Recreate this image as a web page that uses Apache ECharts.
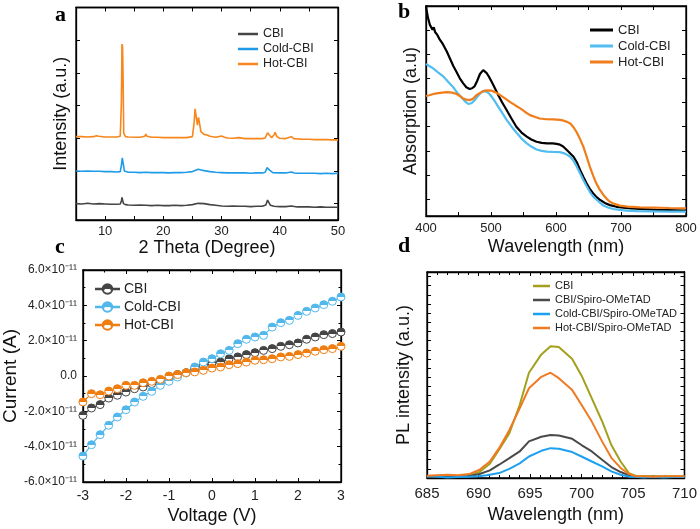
<!DOCTYPE html>
<html><head><meta charset="utf-8">
<script src="https://cdn.jsdelivr.net/npm/echarts@6/dist/echarts.min.js"></script>
<style>html,body{margin:0;padding:0;background:#fff}#c{width:700px;height:529px}</style>
</head><body><div id="c"></div>
<script>
// ---- Panel a: XRD (2θ, intensity offset) ----
const xrdCBI = [[5,0.50],[6,0.49],[7,0.51],[8,0.49],[9,0.50],[10,0.49],[11,0.48],[12,0.48],[12.6,0.49],[12.8,0.58],[12.9,0.69],[13.0,0.65],[13.15,0.50],[13.5,0.47],[14,0.46],[15,0.45],[16,0.46],[17,0.45],[18,0.44],[19,0.45],[20,0.44],[21,0.44],[22,0.45],[23,0.44],[24,0.45],[25,0.47],[26,0.51],[27,0.50],[28,0.47],[29,0.45],[30,0.43],[31,0.42],[32,0.43],[33,0.42],[34,0.42],[35,0.41],[36,0.42],[37,0.42],[37.6,0.46],[37.9,0.61],[38.1,0.58],[38.4,0.45],[39,0.42],[40,0.41],[41,0.41],[42,0.43],[43,0.40],[44,0.40],[45,0.40],[46,0.39],[47,0.40],[48,0.39],[49,0.39],[50,0.39]];
const xrdCold = [[5,1.50],[6,1.49],[7,1.50],[8,1.49],[9,1.49],[10,1.48],[11,1.48],[12,1.47],[12.6,1.48],[12.8,1.68],[12.95,1.90],[13.1,1.74],[13.3,1.50],[14,1.46],[15,1.46],[16,1.45],[17,1.46],[18,1.45],[19,1.45],[20,1.45],[21,1.44],[22,1.45],[23,1.45],[24,1.46],[25,1.48],[26,1.55],[26.5,1.53],[27,1.51],[28,1.48],[29,1.46],[30,1.45],[31,1.44],[32,1.44],[33,1.44],[34,1.44],[35,1.43],[36,1.44],[37,1.44],[37.5,1.46],[37.8,1.60],[38.0,1.65],[38.3,1.52],[38.8,1.45],[40,1.44],[41,1.44],[42,1.47],[42.5,1.44],[43,1.43],[44,1.43],[45,1.43],[46,1.43],[47,1.42],[48,1.43],[49,1.42],[50,1.43]];
const xrdHot = [[5,2.55],[6,2.55],[7,2.54],[8,2.55],[8.5,2.58],[8.7,2.63],[8.9,2.56],[10,2.54],[11,2.54],[12,2.54],[12.6,2.56],[12.8,3.60],[12.9,5.38],[13.0,5.30],[13.1,4.20],[13.2,2.65],[13.5,2.55],[14,2.54],[15,2.53],[16,2.53],[16.8,2.56],[17.0,2.63],[17.2,2.56],[18,2.53],[19,2.53],[20,2.52],[21,2.52],[22,2.52],[23,2.52],[24,2.52],[25,2.55],[25.3,3.00],[25.45,3.40],[25.7,3.10],[25.85,2.90],[26.05,3.14],[26.25,3.10],[26.45,2.70],[27,2.62],[27.5,2.60],[28,2.56],[29,2.53],[30,2.57],[30.5,2.53],[31,2.51],[32,2.50],[33,2.52],[34,2.49],[35,2.49],[36,2.49],[37,2.49],[37.5,2.51],[37.9,2.67],[38.2,2.60],[38.6,2.52],[39.0,2.60],[39.2,2.68],[39.5,2.55],[40,2.50],[41,2.49],[42,2.55],[42.4,2.49],[43,2.48],[44,2.47],[45,2.47],[46,2.46],[47,2.46],[48,2.46],[49,2.45],[50,2.45]];
const aYTicks = [0.5,1.5,2.5,3.5,4.5,5.5,6.5];

// ---- Panel b: absorption (nm, a.u.) ----
const absCBI = [[400,0.87],[401,0.85],[403,0.82],[405,0.80],[406,0.79],[408,0.79],[410,0.77],[412,0.78],[414,0.76],[417,0.75],[421,0.73],[426,0.71],[432,0.68],[437,0.65],[442,0.62],[447,0.595],[452,0.569],[457,0.549],[462,0.532],[467,0.525],[471,0.528],[475,0.537],[479,0.56],[483,0.587],[488,0.603],[493,0.592],[497,0.575],[501,0.555],[506,0.528],[511,0.50],[517,0.47],[524,0.438],[531,0.405],[539,0.369],[547,0.345],[555,0.328],[562,0.316],[570,0.307],[578,0.302],[586,0.300],[595,0.300],[601,0.298],[606,0.295],[611,0.287],[617,0.272],[622,0.258],[627,0.245],[632,0.222],[637,0.19],[642,0.162],[647,0.135],[652,0.112],[657,0.094],[662,0.079],[668,0.066],[675,0.054],[683,0.045],[693,0.038],[704,0.034],[715,0.031],[729,0.029],[742,0.027],[755,0.025],[770,0.024],[785,0.023],[800,0.022]];
const absCold = [[400,0.628],[405,0.62],[411,0.61],[418,0.595],[427,0.576],[434,0.555],[442,0.532],[448,0.51],[455,0.489],[460,0.474],[465,0.463],[470,0.466],[475,0.479],[480,0.497],[486,0.514],[490,0.516],[494,0.513],[498,0.503],[501,0.493],[506,0.474],[511,0.452],[518,0.423],[524,0.397],[532,0.368],[540,0.342],[547,0.32],[555,0.30],[562,0.287],[570,0.275],[578,0.269],[586,0.266],[595,0.265],[606,0.264],[614,0.258],[622,0.245],[627,0.228],[632,0.204],[637,0.177],[642,0.149],[647,0.124],[652,0.100],[657,0.081],[663,0.066],[668,0.054],[673,0.043],[680,0.035],[688,0.029],[698,0.025],[709,0.022],[725,0.020],[750,0.019],[775,0.018],[800,0.018]];
const absHot = [[400,0.496],[405,0.499],[410,0.503],[416,0.507],[422,0.509],[428,0.511],[432,0.512],[437,0.511],[442,0.509],[447,0.504],[452,0.496],[457,0.486],[462,0.481],[467,0.479],[472,0.484],[478,0.50],[484,0.51],[490,0.518],[496,0.519],[501,0.518],[507,0.511],[514,0.50],[521,0.487],[529,0.472],[537,0.458],[545,0.445],[552,0.431],[560,0.417],[568,0.409],[575,0.403],[585,0.400],[596,0.399],[606,0.397],[612,0.394],[617,0.389],[622,0.382],[627,0.367],[632,0.345],[637,0.318],[642,0.287],[647,0.247],[652,0.204],[657,0.168],[662,0.135],[667,0.11],[673,0.087],[678,0.071],[683,0.059],[690,0.05],[698,0.043],[710,0.039],[729,0.036],[750,0.035],[775,0.033],[800,0.032]];
const bYTicks = [0.069,0.169,0.269,0.369,0.469,0.569,0.669,0.769];

// ---- Panel c: I-V (V, A) ----
const voltage = [-3,-2.8,-2.6,-2.4,-2.2,-2,-1.8,-1.6,-1.4,-1.2,-1,-0.8,-0.6,-0.4,-0.2,0,0.2,0.4,0.6,0.8,1,1.2,1.4,1.6,1.8,2,2.2,2.4,2.6,2.8,3];
const curCBI = [-2.23,-1.81,-1.62,-1.25,-1.09,-0.91,-0.72,-0.62,-0.43,-0.30,-0.15,0.08,0.19,0.42,0.60,0.74,0.79,0.98,1.08,1.21,1.32,1.45,1.55,1.68,1.77,1.87,2.08,2.21,2.34,2.40,2.49];
const curCold = [-4.53,-3.89,-3.32,-2.79,-2.32,-1.91,-1.47,-1.15,-0.87,-0.53,-0.30,-0.06,0.17,0.51,0.79,0.98,1.26,1.45,1.83,2.08,2.21,2.30,2.77,3.02,3.15,3.43,3.66,3.85,4.04,4.23,4.47];
const curHot = [-1.47,-1.00,-1.06,-0.85,-0.72,-0.53,-0.53,-0.38,-0.30,-0.19,0.00,0.08,0.19,0.23,0.32,0.45,0.51,0.64,0.70,0.79,0.89,0.92,0.98,1.08,1.11,1.21,1.30,1.40,1.49,1.55,1.68];
const curUnit = 1e-11;

// ---- Panel d: PL (nm, a.u.) ----
const plCBI = [[685,0.2],[686,0.25],[687,0.2],[688,0.22],[689,0.3],[690.1,0.65],[691.1,1.56],[692,3.08],[693,4.9],[694,7.97],[694.9,11.5],[696.1,13.5],[697,14.4],[697.8,14.3],[699.1,13.0],[700,11.2],[701,8.7],[702,6.2],[702.9,3.6],[703.8,1.8],[704.6,0.54],[705.4,0.18],[706,0.22],[707,0.2],[708,0.18],[709,0.2],[710,0.2]];
const plHot = [[685,0.25],[686,0.3],[687,0.35],[688,0.3],[689.1,0.43],[690.1,0.9],[691.1,1.8],[692,3.26],[693,5.25],[694,7.6],[694.9,9.8],[696.1,11.05],[697,11.5],[697.8,10.9],[699.1,9.6],[700,8.0],[701,6.16],[702,4.0],[702.9,2.2],[703.8,1.1],[704.6,0.43],[705.3,0.18],[706,0.2],[707,0.15],[708,0.2],[709,0.18],[710,0.2]];
const plSpiro = [[685,0.15],[686,0.2],[687,0.1],[688,0.15],[689,0.2],[690.1,0.43],[691.1,0.83],[692,1.45],[693,2.17],[694,2.9],[694.9,4.0],[696.1,4.5],[697,4.7],[697.8,4.64],[699.1,4.28],[700,3.6],[701,2.9],[702,2.0],[702.9,1.2],[703.8,0.65],[704.6,0.3],[705.5,0.12],[706,0.1],[707,0.15],[708,0.1],[709,0.12],[710,0.1]];
const plCold = [[685,0.2],[686,0.15],[687,0.05],[688,0.1],[689,0.15],[690,0.2],[690.8,0.3],[692,0.54],[693,1.0],[694,1.6],[694.9,2.35],[696.1,2.97],[697,3.26],[697.8,3.2],[699.1,2.83],[700,2.35],[701,1.8],[702,1.27],[702.9,0.72],[703.8,0.36],[704.6,0.15],[705.5,0.1],[706,0.05],[707,0.1],[708,0.05],[709,0.1],[710,0.1]];

const FONT = 'Liberation Sans, Arial, sans-serif';
const C = {
  aCBI:'#454545', aCold:'#1e9be8', aHot:'#f7861c',
  bCBI:'#000000', bCold:'#52bdf0', bHot:'#f07d1a',
  cCBI:'#454545', cCold:'#52b8ec', cHot:'#f07d10',
  dCBI:'#a3a01e', dSpiro:'#4a4a4a', dCold:'#1ea0f0', dHot:'#f07a22'
};
const grids = [
  {left:76, top:7.5, width:262, height:212.5},
  {left:426, top:6, width:260, height:210},
  {left:79, top:270, width:262, height:212},
  {left:427, top:272, width:259, height:206}
];
const lbl = {color:'#222', fontFamily:FONT};
function xAx(g, pos, o){
  return Object.assign({type:'value', gridIndex:g, position:pos,
    axisLine:{show:true,onZero:false,lineStyle:{color:'#000',width:1.3}},
    axisTick:{show:true,inside:true,length:4,lineStyle:{color:'#000'}},
    splitLine:{show:false}}, o);
}
const xAxes = [
  xAx(0,'bottom',{min:5,max:50,interval:5,name:'2 Theta (Degree)',nameLocation:'middle',nameGap:17,
    nameTextStyle:{fontSize:18,fontFamily:FONT,color:'#111'},
    axisLabel:Object.assign({fontSize:13,margin:5,formatter:v=>v%10===0?String(v):''},lbl)}),
  xAx(0,'top',{min:5,max:50,interval:5,axisLabel:{show:false}}),
  xAx(1,'bottom',{min:400,max:800,interval:50,name:'Wavelength (nm)',nameLocation:'middle',nameGap:22,
    nameTextStyle:{fontSize:18,fontFamily:FONT,color:'#111'},
    axisLabel:Object.assign({fontSize:13,margin:6,formatter:v=>v%100===0?String(v):''},lbl)}),
  xAx(1,'top',{min:400,max:800,interval:50,axisLabel:{show:false}}),
  xAx(2,'bottom',{min:-3,max:3,interval:1,name:'Voltage (V)',nameLocation:'middle',nameGap:25,
    minorTick:{show:true,splitNumber:2,length:2.5,lineStyle:{color:'#000'}},
    nameTextStyle:{fontSize:18,fontFamily:FONT,color:'#111'},
    axisLabel:Object.assign({fontSize:14,margin:7},lbl)}),
  xAx(2,'top',{min:-3,max:3,interval:1,minorTick:{show:true,splitNumber:2,length:2.5,lineStyle:{color:'#000'}},axisLabel:{show:false}}),
  xAx(3,'bottom',{min:685,max:710,interval:5,name:'Wavelength (nm)',nameLocation:'middle',nameGap:28,
    minorTick:{show:true,splitNumber:5,length:3,lineStyle:{color:'#000'}},
    nameTextStyle:{fontSize:18,fontFamily:FONT,color:'#111'},
    axisLabel:Object.assign({fontSize:15,margin:8},lbl)}),
  xAx(3,'top',{min:685,max:710,interval:5,minorTick:{show:true,splitNumber:5,length:3,lineStyle:{color:'#000'}},axisLabel:{show:false}})
];
function yAx(g, pos, o){
  return Object.assign({type:'value', gridIndex:g, position:pos,
    axisLine:{show:true,onZero:false,lineStyle:{color:'#000',width:1.3}},
    splitLine:{show:false}}, o);
}
const tickIn = (vals)=>({show:true,inside:true,length:4,lineStyle:{color:'#000'},customValues:vals});
const yAxes = [
  yAx(0,'left',{min:0,max:6.5,axisTick:tickIn(aYTicks),axisLabel:{show:false},
    name:'Intensity (a.u.)',nameLocation:'middle',nameGap:6,nameTextStyle:{fontSize:18,fontFamily:FONT,color:'#111'}}),
  yAx(0,'right',{min:0,max:6.5,axisTick:tickIn(aYTicks),axisLabel:{show:false}}),
  yAx(1,'left',{min:0,max:0.868,axisTick:tickIn(bYTicks),axisLabel:{show:false},
    name:'Absorption (a.u)',nameLocation:'middle',nameGap:6,nameTextStyle:{fontSize:18,fontFamily:FONT,color:'#111'}}),
  yAx(1,'right',{min:0,max:0.868,axisTick:tickIn(bYTicks),axisLabel:{show:false}}),
  yAx(2,'left',{min:-6e-11,max:6e-11,interval:2e-11,
    axisTick:{show:true,inside:true,length:4,lineStyle:{color:'#000'}},
    minorTick:{show:true,splitNumber:2,length:2.5,lineStyle:{color:'#000'}},
    axisLabel:Object.assign({fontSize:12,margin:6,formatter:v=>{const m=Math.round(v/curUnit*10)/10; return m===0?'0.0':m.toFixed(1)+'×10⁻¹¹';}},lbl),
    name:'Current (A)',nameLocation:'middle',nameGap:56,nameTextStyle:{fontSize:19,fontFamily:FONT,color:'#111'}}),
  yAx(2,'right',{min:-6e-11,max:6e-11,interval:2e-11,
    axisTick:{show:true,inside:true,length:4,lineStyle:{color:'#000'}},
    minorTick:{show:true,splitNumber:2,length:2.5,lineStyle:{color:'#000'}},axisLabel:{show:false}}),
  yAx(3,'left',{min:0,max:22.5,interval:1,axisTick:{show:true,inside:true,length:4,lineStyle:{color:'#000'}},axisLabel:{show:false},
    name:'PL intensity (a.u.)',nameLocation:'middle',nameGap:14,nameTextStyle:{fontSize:18,fontFamily:FONT,color:'#111'}}),
  yAx(3,'right',{min:0,max:22.5,interval:1,axisTick:{show:true,inside:true,length:4,lineStyle:{color:'#000'}},axisLabel:{show:false}})
];
function lineS(name, data, color, xi, w){
  return {name, type:'line', xAxisIndex:xi, yAxisIndex:xi, data, symbol:'none', smooth:false,
    lineStyle:{color, width:w}, itemStyle:{color}, silent:true, animation:false};
}
function halfFill(c){
  return {type:'linear',x:0,y:0,x2:0,y2:1,colorStops:[{offset:0,color:c},{offset:0.5,color:c},{offset:0.5,color:'#fff'},{offset:1,color:'#fff'}]};
}
function ivS(name, vals, color){
  return {name, type:'line', xAxisIndex:4, yAxisIndex:4, data: voltage.map((v,i)=>[v, vals[i]*curUnit]),
    symbol:'circle', symbolSize:8, showSymbol:true,
    lineStyle:{color, width:1.2}, itemStyle:{color:halfFill(color), borderColor:color, borderWidth:1}, animation:false, silent:true};
}
const series = [
  lineS('a:CBI', xrdCBI, C.aCBI, 0, 1.6),
  lineS('a:Cold-CBI', xrdCold, C.aCold, 0, 1.6),
  lineS('a:Hot-CBI', xrdHot, C.aHot, 0, 1.6),
  lineS('b:CBI', absCBI, C.bCBI, 2, 2.2),
  lineS('b:Cold-CBI', absCold, C.bCold, 2, 2.2),
  lineS('b:Hot-CBI', absHot, C.bHot, 2, 2.2),
  ivS('c:CBI', curCBI, C.cCBI),
  ivS('c:Cold-CBI', curCold, C.cCold),
  ivS('c:Hot-CBI', curHot, C.cHot),
  lineS('d:CBI', plCBI, C.dCBI, 6, 2),
  lineS('d:CBI/Spiro-OMeTAD', plSpiro, C.dSpiro, 6, 2),
  lineS('d:Cold-CBI/Spiro-OMeTAD', plCold, C.dCold, 6, 2),
  lineS('d:Hot-CBI/Spiro-OMeTAD', plHot, C.dHot, 6, 2)
];
const strip = n => n.slice(2);
function leg(names, left, top, fs, lh, iw, ih, gap, icon){
  return {data:names, left, top, orient:'vertical', itemWidth:iw, itemHeight:ih, itemGap:gap, icon,
    selectedMode:false, formatter:strip,
    textStyle:{fontSize:fs, lineHeight:lh, fontFamily:FONT, color:'#222'}};
}
const ivIcon = 'path://M0,4.8 L8,4.8 L8,5.2 L0,5.2 Z M16,4.8 L24,4.8 L24,5.2 L16,5.2 Z M17,5 A5,5 0 1 1 7,5 A5,5 0 1 1 17,5 Z';
const legends = [
  leg(['a:CBI','a:Cold-CBI','a:Hot-CBI'], 233, 22.5, 12.5, 13, 20, 2.5, 2, 'rect'),
  leg(['b:CBI','b:Cold-CBI','b:Hot-CBI'], 585, 18, 13, 14, 23, 3, 2, 'rect'),
  leg(['c:CBI','c:Cold-CBI','c:Hot-CBI'], 90, 276, 14, 16, 23, 10, 2, ivIcon),
  leg(['d:CBI','d:CBI/Spiro-OMeTAD','d:Cold-CBI/Spiro-OMeTAD','d:Hot-CBI/Spiro-OMeTAD'], 528, 275, 11, 12, 17, 2.5, 2, 'rect')
];
const letters = [['a',61,14],['b',404,11],['c',61,246],['d',404,245]];
const chart = echarts.init(document.getElementById('c'), null, {renderer:'canvas'});
chart.setOption({
  animation:false,
  backgroundColor:'#fff',
  grid: grids.map(g=>Object.assign({show:true,borderColor:'#000',borderWidth:1.3,containLabel:false},g)),
  xAxis: xAxes, yAxis: yAxes, series, legend: legends,
  graphic: letters.map(([t,x,y])=>({type:'text', left:x-6, top:y-10, style:{text:t, font:'bold 22px "Liberation Serif", "Times New Roman", serif', fill:'#000'}}))
});
</script></body></html>
